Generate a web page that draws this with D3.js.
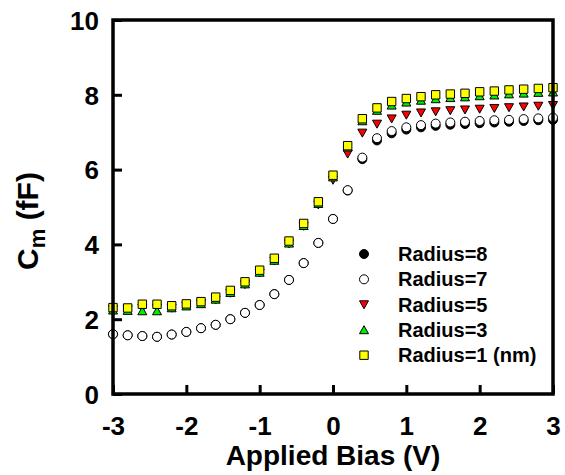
<!DOCTYPE html>
<html>
<head>
<meta charset="utf-8">
<script src="https://cdn.jsdelivr.net/npm/d3@7"></script>
<style>
  body { margin: 0; background: #fff; }
  text { font-family: "Liberation Sans", Arial, sans-serif; font-weight: bold; }
</style>
</head>
<body>
<script>
// applied bias (V)
var bias = [-3, -2.8, -2.6, -2.4, -2.2, -2, -1.8, -1.6, -1.4, -1.2, -1, -0.8, -0.6, -0.4, -0.2, 0,
            0.2, 0.4, 0.6, 0.8, 1, 1.2, 1.4, 1.6, 1.8, 2, 2.2, 2.4, 2.6, 2.8, 3];

// Cm (fF) for each radius
var r8 = [1.60, 1.57, 1.55, 1.53, 1.59, 1.66, 1.76, 1.85, 2.00, 2.17, 2.38, 2.67, 3.05, 3.50, 4.04, 4.68,
          5.44, 6.28, 6.78, 6.97, 7.07, 7.13, 7.17, 7.20, 7.22, 7.24, 7.26, 7.28, 7.30, 7.32, 7.33];
var r7 = [1.60, 1.57, 1.55, 1.53, 1.59, 1.66, 1.76, 1.85, 2.00, 2.17, 2.38, 2.67, 3.05, 3.50, 4.04, 4.68,
          5.45, 6.32, 6.84, 7.03, 7.13, 7.19, 7.23, 7.26, 7.28, 7.30, 7.32, 7.33, 7.35, 7.37, 7.39];
var r5 = [2.26, 2.26, 2.30, 2.30, 2.30, 2.36, 2.42, 2.52, 2.70, 2.93, 3.24, 3.56, 4.02, 4.49, 5.06, 5.72,
          6.42, 6.98, 7.22, 7.36, 7.46, 7.52, 7.55, 7.58, 7.60, 7.62, 7.64, 7.66, 7.68, 7.70, 7.72];
var r3 = [2.24, 2.23, 2.22, 2.22, 2.30, 2.35, 2.41, 2.53, 2.71, 2.94, 3.25, 3.57, 4.03, 4.50, 5.09, 5.80,
          6.60, 7.30, 7.58, 7.72, 7.80, 7.85, 7.89, 7.92, 7.94, 7.97, 7.99, 8.02, 8.04, 8.06, 8.07];
var r1 = [2.31, 2.30, 2.40, 2.40, 2.36, 2.41, 2.47, 2.59, 2.77, 3.00, 3.31, 3.63, 4.09, 4.56, 5.14, 5.85,
          6.64, 7.36, 7.65, 7.82, 7.90, 7.95, 8.00, 8.02, 8.04, 8.08, 8.10, 8.13, 8.15, 8.17, 8.19];

var seriesNames = ["Radius=8", "Radius=7", "Radius=5", "Radius=3", "Radius=1 (nm)"];
var seriesValues = [r8, r7, r5, r3, r1];
var seriesShapes = ["circle", "circle", "down", "up", "square"];
var seriesFills = ["#000000", "#ffffff", "#ff0000", "#00ee00", "#ffff00"];

var xTicks = [-3, -2, -1, 0, 1, 2, 3];
var yTicks = [0, 2, 4, 6, 8, 10];

var W = 565, H = 475;
var plotLeft = 113, plotRight = 553, plotTop = 20, plotBottom = 394;

var x = d3.scaleLinear().domain([-3, 3]).range([plotLeft, plotRight]);
var y = d3.scaleLinear().domain([0, 10]).range([plotBottom, plotTop]);

var svg = d3.select("body").append("svg")
    .attr("width", W)
    .attr("height", H);

function markerPath(shape) {
    if (shape == "down") return "M-4.5,-3.8L4.5,-3.8L0,4.2Z";
    if (shape == "up") return "M-4.5,3.8L4.5,3.8L0,-4.2Z";
    if (shape == "square") return "M-4.2,-4.2H4.2V4.2H-4.2Z";
    return d3.symbol().type(d3.symbolCircle).size(Math.PI * 4.5 * 4.5)();
}

// points, radius 8 first so the rest sits on top
seriesValues.forEach(function (vals, i) {
    svg.append("g").selectAll("path")
        .data(bias.map(function (b, j) { return {b: b, v: vals[j]}; }))
        .enter().append("path")
        .attr("d", markerPath(seriesShapes[i]))
        .attr("transform", function (d) {
            return "translate(" + x(d.b) + "," + y(d.v) + ")";
        })
        .style("fill", seriesFills[i])
        .style("stroke", "#000")
        .style("stroke-width", 1);
});

// axes, ticks pointing inward
var plainFmt = function (d) { return String(d); };

var xAxis = svg.append("g")
    .attr("transform", "translate(0," + plotBottom + ")")
    .call(d3.axisBottom(x).tickValues(xTicks).tickFormat(plainFmt).tickSize(-9).tickPadding(0));

var yAxis = svg.append("g")
    .attr("transform", "translate(" + plotLeft + ",0)")
    .call(d3.axisLeft(y).tickValues(yTicks).tickFormat(plainFmt).tickSize(-9).tickPadding(14));

[xAxis, yAxis].forEach(function (a) {
    a.select(".domain").remove();
    a.selectAll(".tick line").attr("stroke", "#000").attr("stroke-width", 3);
    a.selectAll(".tick text")
        .attr("fill", "#000")
        .style("font-size", "26px")
        .style("font-family", "'Liberation Sans', Arial, sans-serif")
        .style("font-weight", "bold");
});

xAxis.selectAll(".tick text").attr("y", 41).attr("dy", null);
yAxis.selectAll(".tick text").attr("dy", "0.36em");

// frame
svg.append("rect")
    .attr("x", plotLeft)
    .attr("y", plotTop)
    .attr("width", plotRight - plotLeft)
    .attr("height", plotBottom - plotTop)
    .style("fill", "none")
    .style("stroke", "#000")
    .style("stroke-width", 3.5);

// axis titles
svg.append("text")
    .attr("x", (plotLeft + plotRight) / 2)
    .attr("y", 465)
    .attr("text-anchor", "middle")
    .style("font-size", "28px")
    .text("Applied Bias (V)");

var ylab = svg.append("text")
    .attr("transform", "translate(38,221) rotate(-90)")
    .attr("text-anchor", "middle")
    .style("font-size", "30px");
ylab.append("tspan").text("C");
ylab.append("tspan").attr("dy", 7).style("font-size", "22px").text("m");
ylab.append("tspan").attr("dy", -7).text(" (fF)");

// legend
var legend = svg.append("g");
var legY = [254, 279.3, 304.6, 329.9, 355.2];
seriesNames.forEach(function (name, i) {
    legend.append("path")
        .attr("d", markerPath(seriesShapes[i]))
        .attr("transform", "translate(364," + legY[i] + ")")
        .style("fill", seriesFills[i])
        .style("stroke", "#000")
        .style("stroke-width", 1);
    legend.append("text")
        .attr("x", 398)
        .attr("y", legY[i] + 7)
        .style("font-size", "20px")
        .text(name);
});
</script>
</body>
</html>
